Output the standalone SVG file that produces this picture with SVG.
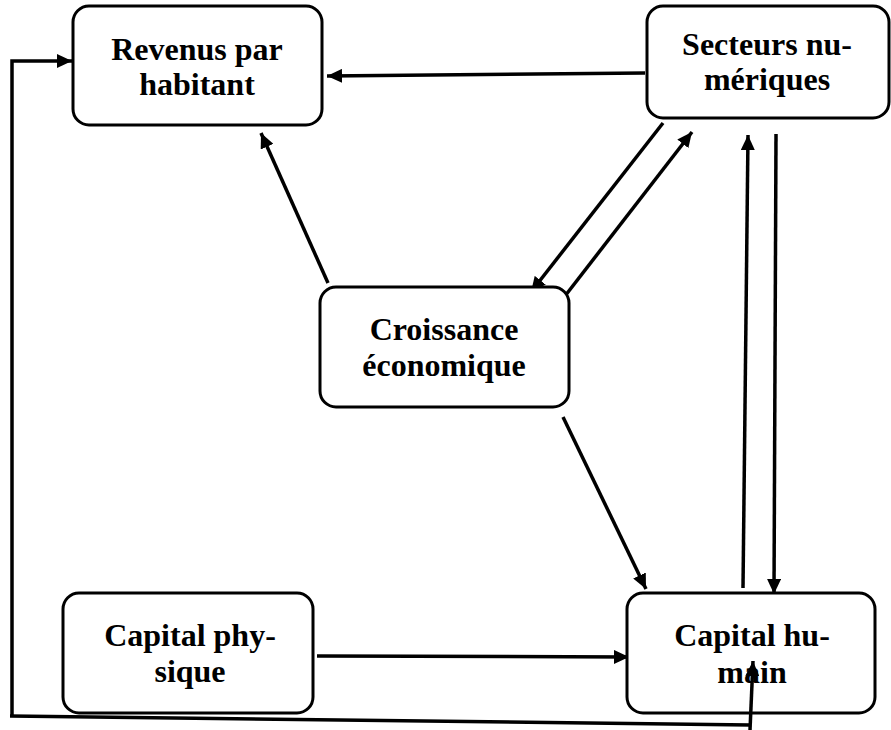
<svg xmlns="http://www.w3.org/2000/svg" width="891" height="730" viewBox="0 0 891 730">
<style>
.box{fill:#fff;stroke:#000;stroke-width:3}
.lbl{font-family:"Liberation Serif","Times New Roman",serif;font-weight:bold;font-size:32px;fill:#000;text-anchor:middle}
.c{fill:none;stroke:#000;stroke-width:3.5}
.a{marker-end:url(#ah)}
</style>
<defs>
<marker id="ah" markerUnits="userSpaceOnUse" markerWidth="16" markerHeight="14" refX="15" refY="7" orient="auto">
<path d="M0,0 L15,7 L0,14 z" fill="#000"/>
</marker>
</defs>
<g id="connectors">
<polyline class="c a" points="12,717 12,61 72,61"/>
<line class="c a" x1="645" y1="73" x2="327" y2="76"/>
<line class="c a" x1="328" y1="283" x2="261" y2="133"/>
<line class="c a" x1="663" y1="123" x2="531" y2="292"/>
<line class="c a" x1="565" y1="296" x2="692" y2="132"/>
<line class="c a" x1="743" y1="588" x2="748" y2="135"/>
<line class="c a" x1="776" y1="134" x2="774" y2="594"/>
<line class="c a" x1="563" y1="417" x2="646" y2="589"/>
<line class="c a" x1="317" y1="656" x2="629" y2="657"/>
<polyline class="c" points="10,716 750,725"/>
</g>
<g id="revenus">
<rect class="box" x="73" y="6" width="249" height="119" rx="16"/>
<text class="lbl" x="197" y="60">Revenus par</text>
<text class="lbl" x="197" y="95">habitant</text>
</g>
<g id="secteurs">
<rect class="box" x="647" y="6" width="242" height="112" rx="16"/>
<text class="lbl" x="767" y="55">Secteurs nu-</text>
<text class="lbl" x="767" y="90">mériques</text>
</g>
<g id="croissance">
<rect class="box" x="320" y="287" width="249" height="120" rx="16"/>
<text class="lbl" x="444" y="340">Croissance</text>
<text class="lbl" x="444" y="376">économique</text>
</g>
<g id="capital-physique">
<rect class="box" x="63" y="593" width="250" height="120" rx="16"/>
<text class="lbl" x="190" y="646">Capital phy-</text>
<text class="lbl" x="190" y="682">sique</text>
</g>
<g id="capital-humain">
<rect class="box" x="627" y="593" width="248" height="120" rx="16"/>
<text class="lbl" x="752" y="646">Capital hu-</text>
<text class="lbl" x="752" y="683">main</text>
</g>
<line id="feedback-arrow" class="c a" x1="750" y1="730" x2="753" y2="661"/>
</svg>
